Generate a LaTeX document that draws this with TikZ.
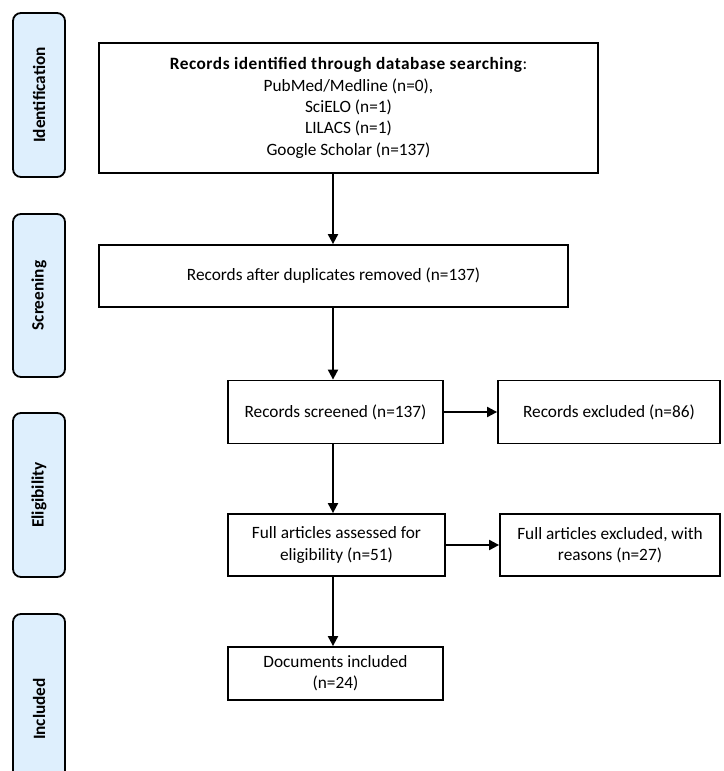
\documentclass[tikz,border=0pt]{standalone}
\usepackage{fontspec}
\setmainfont{Carlito}
\usetikzlibrary{arrows.meta}
\definecolor{sidefill}{RGB}{222,239,253}
\begin{document}
\begin{tikzpicture}[x=1pt,y=-1pt,
  box/.style={draw=black,line width=1.8pt,fill=white,align=center,inner sep=2pt,
    font=\fontsize{17.3}{21.3}\selectfont},
  side/.style={draw=black,line width=1.8pt,fill=sidefill,rounded corners=8pt,rotate=90,
    minimum height=52pt,inner sep=0pt,font=\fontsize{17.3}{20}\selectfont\bfseries},
  arr/.style={line width=2pt,-{Triangle[length=10pt,width=10pt]}}]
\clip (0,0) rectangle (723,771);
\fill[white] (0,0) rectangle (723,771);
% side labels
\node[side,minimum width=164pt] (sid) at (39,95) {Identification};
\node[side,minimum width=163pt] (sscr) at (39,295.5) {Screening};
\node[side,minimum width=164pt] (sel) at (39,495) {Eligibility};
\node[side,minimum width=190pt] (sinc) at (39,709) {Included};
% main boxes
\node[box,minimum width=499pt,minimum height=130pt] (id) at (348.5,108)
  {{\addfontfeature{LetterSpace=3}\textbf{Records identified through database searching}:}\\
   PubMed/Medline (n=0),\\ SciELO (n=1)\\ LILACS (n=1)\\ Google Scholar (n=137)};
\node[box,minimum width=469pt,minimum height=62pt] (scr) at (333.5,276)
  {Records after duplicates removed (n=137)};
\node[box,minimum width=215pt,minimum height=63pt] (rs) at (335.5,412)
  {Records screened (n=137)};
\node[box,minimum width=222pt,minimum height=63pt] (re) at (609,412)
  {Records excluded (n=86)};
\node[box,minimum width=217pt,minimum height=62pt] (fa) at (336.5,545)
  {Full articles assessed for\\ eligibility (n=51)};
\node[box,minimum width=220pt,minimum height=62pt] (fe) at (610,545)
  {Full articles excluded, with\\ reasons (n=27)};
\node[box,minimum width=215pt,minimum height=53pt] (di) at (335.5,673.5)
  {Documents included\\ (n=24)};
% arrows
\coordinate (a1) at (333,0);
\draw[arr] (id.south -| a1) -- (scr.north -| a1);
\draw[arr] (scr.south -| a1) -- (rs.north -| a1);
\draw[arr] (rs.south -| a1) -- (fa.north -| a1);
\draw[arr] (fa.south -| a1) -- (di.north -| a1);
\draw[arr] (rs.east) -- (re.west);
\draw[arr] (fa.east) -- (fe.west);
\end{tikzpicture}
\end{document}
